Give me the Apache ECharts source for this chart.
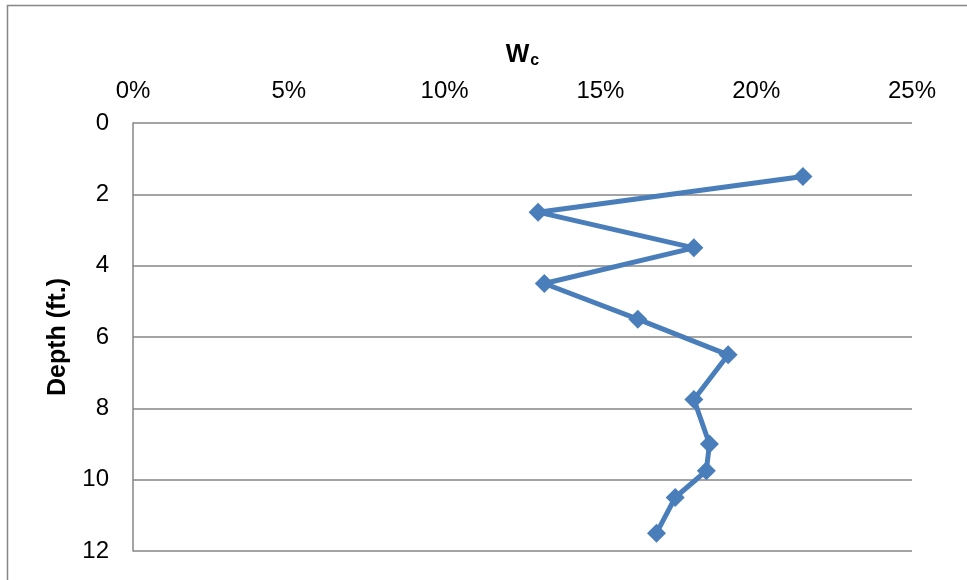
<!DOCTYPE html>
<html>
<head>
<meta charset="utf-8">
<script src="https://cdn.jsdelivr.net/npm/echarts@6/dist/echarts.min.js"></script>
<style>
  html, body { margin: 0; padding: 0; background: #fff; }
  #chart { width: 967px; height: 580px; }
</style>
</head>
<body>
<div id="chart"></div>
<script>
// Moisture content (Wc) measured at each sampling depth
const depthFt = [1.5, 2.5, 3.5, 4.5, 5.5, 6.5, 7.75, 9, 9.75, 10.5, 11.5];
const moisture = [0.215, 0.130, 0.180, 0.132, 0.162, 0.191, 0.180, 0.185, 0.184, 0.174, 0.168];
const xTicks = [0, 0.05, 0.10, 0.15, 0.20, 0.25];
const yTicks = [0, 2, 4, 6, 8, 10, 12];

const chart = echarts.init(document.getElementById('chart'), null, { renderer: 'canvas' });
const gray = '#868686';
const font = 'Liberation Sans, Arial, sans-serif';

chart.setOption({
  animation: false,
  backgroundColor: '#fff',
  graphic: [{
    type: 'rect',
    shape: { x: 7.5, y: 5.5, width: 1200, height: 1200 },
    style: { fill: 'none', stroke: gray, lineWidth: 1.5 },
    silent: true
  }],
  grid: { left: 133, right: 55, top: 123, bottom: 29, containLabel: false },
  xAxis: {
    type: 'value',
    position: 'top',
    min: xTicks[0],
    max: xTicks[xTicks.length - 1],
    interval: 0.05,
    name: '{w|W}{c|c}',
    nameLocation: 'middle',
    nameGap: 54,
    nameTextStyle: {
      rich: {
        w: { fontFamily: font, fontSize: 25, fontWeight: 'bold', color: '#000' },
        c: { fontFamily: font, fontSize: 16, fontWeight: 'bold', color: '#000', padding: [12, 0, 0, 1] }
      }
    },
    axisLine: { show: false },
    axisTick: { show: false },
    splitLine: { show: false },
    axisLabel: {
      margin: 20,
      fontFamily: font,
      fontSize: 24,
      color: '#000',
      formatter: v => Math.round(v * 100) + '%'
    }
  },
  yAxis: {
    type: 'value',
    inverse: true,
    min: yTicks[0],
    max: yTicks[yTicks.length - 1],
    interval: 2,
    name: 'Depth (ft.)',
    nameLocation: 'middle',
    nameRotate: 90,
    nameGap: 62,
    nameTextStyle: { fontFamily: font, fontSize: 25, fontWeight: 'bold', color: '#000' },
    axisLine: { show: true, lineStyle: { color: gray, width: 1.5 } },
    axisTick: { show: false },
    splitLine: { show: true, lineStyle: { color: gray, width: 1.5 } },
    axisLabel: { margin: 24, fontFamily: font, fontSize: 24, color: '#000' }
  },
  series: [{
    type: 'line',
    data: depthFt.map((d, i) => [moisture[i], d]),
    symbol: 'diamond',
    symbolSize: 19,
    lineStyle: { color: '#4A7EBB', width: 5 },
    itemStyle: { color: '#4A7EBB' }
  }]
});
</script>
</body>
</html>
